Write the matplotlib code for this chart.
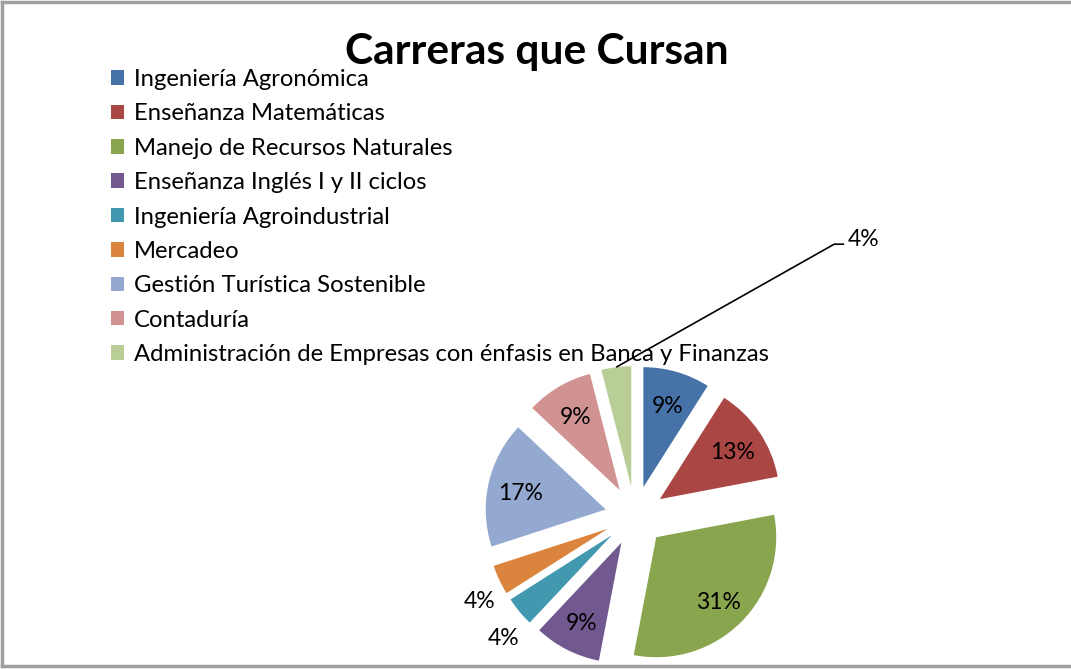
import matplotlib
matplotlib.use("Agg")
import matplotlib.pyplot as plt
from matplotlib.lines import Line2D
import numpy as np

plt.rcParams['font.family'] = ['Lato', 'DejaVu Sans']

title = "Carreras que Cursan"
categories = [
    "Ingeniería Agronómica",
    "Enseñanza Matemáticas",
    "Manejo de Recursos Naturales",
    "Enseñanza Inglés I y II ciclos",
    "Ingeniería Agroindustrial",
    "Mercadeo",
    "Gestión Turística Sostenible",
    "Contaduría",
    "Administración de Empresas con énfasis en Banca y Finanzas",
]
values = [9, 13, 31, 9, 4, 4, 17, 9, 4]
pct_labels = ["9%", "13%", "31%", "9%", "4%", "4%", "17%", "9%", "4%"]
colors = ["#4672A8", "#AA4643", "#89A54E", "#71588F", "#4198AF",
          "#DB843D", "#93A9CF", "#D19392", "#B9CD96"]

W, H = 1071, 669
fig = plt.figure(figsize=(W / 100, H / 100), dpi=100)
ax = fig.add_axes([0, 0, 1, 1])

cx, cy = 635, H - 516
R = 120
EXPL = 30
wedges, _ = ax.pie(values, colors=colors, startangle=90, counterclock=False,
                   explode=[EXPL] * len(values), radius=R, center=(cx, cy),
                   wedgeprops=dict(linewidth=0))
ax.set_xlim(0, W)
ax.set_ylim(0, H)
ax.set_aspect('auto')
ax.axis('off')

fs_lab = 16.5
for i, w in enumerate(wedges):
    th = np.deg2rad((w.theta1 + w.theta2) / 2)
    d = np.array([np.cos(th), np.sin(th)])
    c = np.array(w.center)
    if i in (4, 5):
        p = c + 1.24 * R * d + np.array([6, -9])
        ax.text(p[0], p[1], pct_labels[i], ha='center', va='center', fontsize=fs_lab)
    elif i == 8:
        p0 = c + 1.0 * R * d
        elbow = (p0[0] + 218, p0[1] + 123)
        end = (elbow[0] + 10, elbow[1])
        ax.plot([p0[0], elbow[0], end[0]], [p0[1], elbow[1], end[1]],
                color='black', lw=1.2, solid_capstyle='butt')
        ax.text(end[0] + 4, end[1] + 5, pct_labels[i], ha='left', va='center', fontsize=fs_lab)
    else:
        p = c + 0.73 * R * d + np.array([0, -3])
        ax.text(p[0], p[1], pct_labels[i], ha='center', va='center', fontsize=fs_lab)

fig.text(537 / W, 1 - 52 / H, title, ha='center', va='center',
         fontsize=30.5, fontweight='bold')

leg = fig.legend(wedges, categories, loc='upper left',
                 bbox_to_anchor=(111 / W, 1 - 69 / H), bbox_transform=fig.transFigure,
                 frameon=False, fontsize=17.2, borderpad=0, borderaxespad=0,
                 handlelength=0.55, handleheight=0.55, handletextpad=0.4,
                 labelspacing=0.56)

gray = '#A0A0A0'
fig.add_artist(Line2D([2 / W, 2 / W], [1 - 2 / H, 1 - 666 / H], color=gray, lw=2.5,
                      transform=fig.transFigure))
fig.add_artist(Line2D([2 / W, 1], [1 - 2 / H, 1 - 2 / H], color=gray, lw=2.5,
                      transform=fig.transFigure))
fig.add_artist(Line2D([2 / W, 1], [1 - 666 / H, 1 - 666 / H], color=gray, lw=2.5,
                      transform=fig.transFigure))

fig.savefig("out.png", dpi=100)
